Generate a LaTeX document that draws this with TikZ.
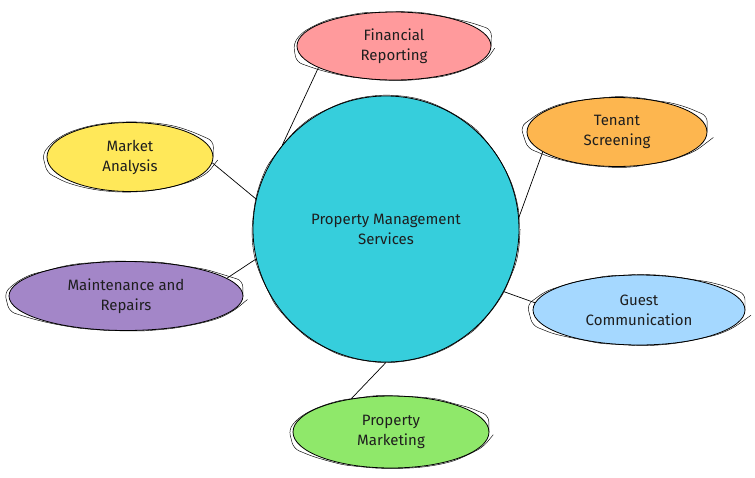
\documentclass[tikz,border=0pt]{standalone}
\usepackage{fontspec}
\setmainfont{Fira Sans}
\usetikzlibrary{shapes.geometric,decorations.pathmorphing}
\definecolor{ink}{HTML}{1E1E1E}
\definecolor{hub}{HTML}{36CEDC}
\definecolor{pinkish}{HTML}{FF9A9C}
\definecolor{orangish}{HTML}{FDB64F}
\definecolor{yellowish}{HTML}{FFE859}
\definecolor{purplish}{HTML}{A386C8}
\definecolor{bluish}{HTML}{A5D8FF}
\definecolor{greenish}{HTML}{8FE86A}
\tikzset{
  sketch/.style={draw=black, line width=0.8pt,
    postaction={draw, line width=0.45pt, decorate,
      decoration={random steps, segment length=16pt, amplitude=0.7pt},
      rounded corners=6pt}},
  bubble/.style={ellipse, sketch, inner sep=0pt, align=center, text=ink,
    font=\fontsize{15}{20}\selectfont},
  link/.style={draw=black, line width=0.7pt}
}

\begin{document}
\begin{tikzpicture}[x=1pt, y=-1pt]
    \useasboundingbox (0,0) rectangle (755,477);
    \node[circle, sketch, fill=hub, minimum size=266pt, inner sep=0pt,
      align=center, text=ink, font=\fontsize{15}{20}\selectfont]
      (hubnode) at (386,229) {Property Management\\Services};
    \node[bubble, fill=pinkish, minimum width=194pt, minimum height=68pt]
      (fin) at (394,46) {Financial\\Reporting};
    \node[bubble, fill=orangish, minimum width=180pt, minimum height=69pt]
      (tenant) at (617,132) {Tenant\\Screening};
    \node[bubble, fill=yellowish, minimum width=166pt, minimum height=69pt]
      (market) at (130,157) {Market\\Analysis};
    \node[bubble, fill=purplish, minimum width=234pt, minimum height=69pt]
      (maint) at (126,296) {Maintenance and\\Repairs};
    \node[bubble, fill=bluish, minimum width=212pt, minimum height=70pt]
      (guest) at (639,310) {Guest\\Communication};
    \node[bubble, fill=greenish, minimum width=196pt, minimum height=72pt]
      (promo) at (391,432) {Property\\Marketing};
    % connectors
    \draw[link] (hubnode.141) -- (fin.196);
    \draw[link] (hubnode.5) -- (tenant.195);
    \draw[link] (hubnode.167) -- (market.356);
    \draw[link] (hubnode.193) -- (maint.10);
    \draw[link] (hubnode.332) -- (guest.176);
    \draw[link] (hubnode.270) -- (promo.140);
\end{tikzpicture}
\end{document}
